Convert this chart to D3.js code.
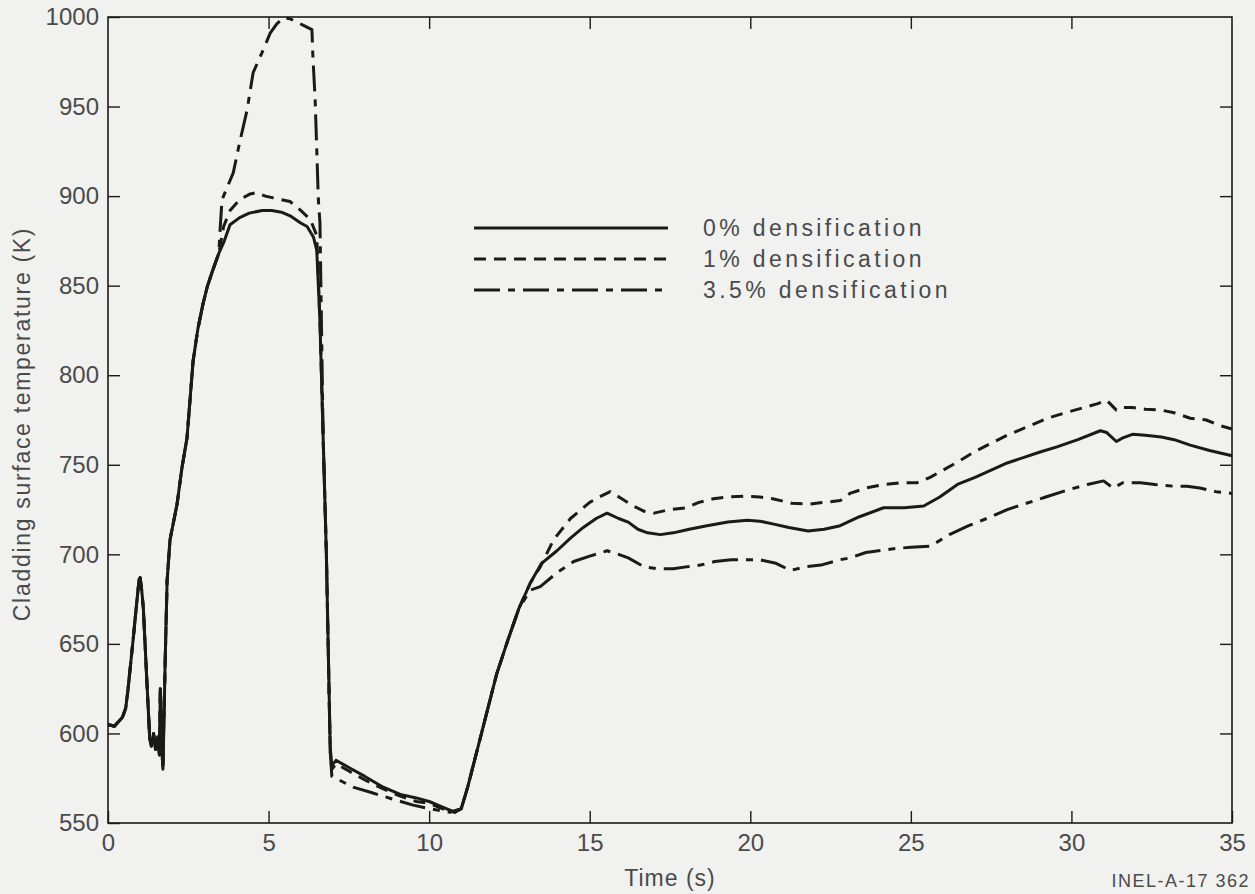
<!DOCTYPE html>
<html>
<head>
<meta charset="utf-8">
<script src="https://cdn.jsdelivr.net/npm/d3@7"></script>
<style>
  body { margin: 0; background: #f1f1ef; }
  svg { display: block; font-family: "Liberation Sans", Arial, sans-serif; }
</style>
</head>
<body>
<div id="chart"></div>
<script>
// time (s), cladding surface temperature (K)

// all three runs sit on top of each other up to ~3.4 s
const commonStart = [
  [0, 605], [0.2, 604], [0.45, 609], [0.55, 614], [0.62, 624], [0.7, 638], [0.78, 652],
  [0.9, 674], [0.97, 686], [1.0, 687], [1.05, 680], [1.1, 670], [1.2, 633], [1.3, 597],
  [1.35, 593], [1.42, 600], [1.48, 591], [1.55, 598], [1.6, 588], [1.63, 625], [1.67, 595],
  [1.71, 580], [1.78, 640], [1.84, 685], [1.93, 708], [2.15, 728], [2.3, 748], [2.46, 765],
  [2.65, 808], [2.8, 826], [2.96, 840], [3.1, 850], [3.27, 859], [3.45, 868]
]

const dens0 = [
  [3.6, 874], [3.8, 884], [4.1, 888], [4.4, 890.5], [4.8, 892], [5.1, 892], [5.4, 891],
  [5.67, 889], [6.0, 885], [6.2, 883], [6.4, 877], [6.5, 870], [6.6, 830], [6.7, 765],
  [6.8, 700], [6.92, 592], [6.97, 582], [7.1, 585], [7.5, 581], [8.0, 576], [8.57, 570],
  [9.1, 566], [9.6, 564], [10.0, 562], [10.4, 559], [10.8, 556], [11.0, 558], [11.2, 570],
  [11.6, 598], [12.1, 633], [12.45, 652], [12.8, 670], [13.15, 684], [13.5, 695], [13.98, 702],
  [14.4, 709], [14.8, 715], [15.2, 720], [15.54, 723], [15.9, 720], [16.2, 718], [16.5, 714],
  [16.8, 712], [17.2, 711], [17.6, 712], [18.1, 714], [18.65, 716], [19.3, 718], [19.9, 719],
  [20.3, 718.5], [20.7, 717], [21.2, 715], [21.8, 713], [22.3, 714], [22.8, 716], [23.4, 721],
  [24.15, 726], [24.8, 726], [25.4, 727], [25.9, 732], [26.45, 739], [27.0, 743], [27.5, 747],
  [28.0, 751], [28.5, 754], [29.0, 757], [29.55, 760], [30.2, 764], [30.9, 769], [31.1, 768],
  [31.4, 763], [31.6, 765], [31.9, 767], [32.3, 766.5], [32.8, 765.5], [33.2, 764], [33.7, 761],
  [34.3, 758], [35, 755]
]

const dens1 = [
  [3.5, 873], [3.6, 883], [3.8, 892], [4.1, 898], [4.4, 901], [4.63, 902], [4.9, 900],
  [5.15, 899], [5.4, 898], [5.67, 897], [6.0, 892], [6.3, 887], [6.5, 878], [6.6, 830],
  [6.7, 765], [6.8, 700], [6.92, 590], [6.97, 580], [7.1, 583], [7.5, 579], [8.0, 574],
  [8.57, 569], [9.1, 565], [9.6, 562], [10.0, 561], [10.4, 558], [10.8, 556], [11.0, 558],
  [11.2, 570], [11.6, 598], [12.1, 633], [12.45, 652], [12.8, 670], [13.15, 684], [13.46, 693],
  [13.87, 708], [14.4, 720], [15.0, 729], [15.3, 732], [15.64, 735], [16.0, 731], [16.36, 727],
  [16.7, 724], [17.0, 723], [17.5, 725], [18.0, 726], [18.4, 729], [18.85, 731], [19.3, 732],
  [19.8, 732.5], [20.3, 732], [20.7, 731], [21.3, 728.5], [21.8, 728], [22.3, 729], [22.8, 730],
  [23.1, 734], [23.6, 737], [24.15, 739], [24.7, 740], [25.2, 740], [25.6, 743], [26.0, 747],
  [26.5, 752], [26.95, 757], [27.5, 762], [28.0, 766.5], [28.6, 771], [29.25, 776], [29.8, 779],
  [30.4, 782], [30.8, 784], [31.1, 786], [31.4, 780.5], [31.6, 782], [31.9, 782], [32.3, 781],
  [32.8, 780.5], [33.2, 779], [33.7, 776], [34.2, 775], [34.6, 772], [35, 770]
]

const dens35 = [
  [3.49, 881], [3.55, 898], [3.9, 913], [4.1, 930], [4.33, 948], [4.52, 969], [4.83, 981.5],
  [5.05, 991], [5.25, 996], [5.45, 999.5], [5.67, 999], [6.07, 995.5], [6.35, 993], [6.38, 978],
  [6.45, 954], [6.5, 926], [6.55, 898], [6.6, 885], [6.7, 765], [6.8, 700], [6.92, 590],
  [6.97, 576], [7.2, 574], [7.63, 570], [8.2, 567], [8.8, 563.7], [9.5, 560], [10.0, 558],
  [10.65, 556], [11.0, 558], [11.2, 570], [11.6, 598], [12.1, 633], [12.45, 652], [12.8, 670],
  [13.15, 680], [13.46, 682], [14.0, 690], [14.5, 696], [15.0, 699], [15.54, 702], [15.9, 700],
  [16.2, 698], [16.7, 693], [17.1, 692], [17.6, 692], [18.0, 693], [18.45, 694], [18.9, 696],
  [19.4, 697], [19.9, 697], [20.3, 697], [20.8, 695], [21.25, 691], [21.7, 693], [22.2, 694],
  [22.8, 697], [23.1, 698], [23.6, 701], [24.4, 703], [25.0, 704], [25.6, 704.5], [26.2, 711],
  [26.8, 716], [27.5, 721], [28.0, 725], [28.6, 728.5], [29.2, 732], [29.9, 736], [30.5, 739],
  [31.0, 741], [31.3, 737], [31.6, 740], [32.15, 740], [32.6, 739], [33.2, 738], [33.6, 738],
  [34.0, 737], [34.5, 735], [35, 734]
]

const seriesNames = ['0% densification', '1% densification', '3.5% densification']
const xTicks = [0, 5, 10, 15, 20, 25, 30, 35]
const yTicks = [550, 600, 650, 700, 750, 800, 850, 900, 950, 1000]

const series = [
  { name: seriesNames[0], values: commonStart.concat(dens0), dash: null },
  { name: seriesNames[1], values: commonStart.concat(dens1), dash: '12,8' },
  { name: seriesNames[2], values: commonStart.concat(dens35), dash: '26,8,7,8' }
]

const W = 1255, H = 894
const margin = { top: 17, right: 23, bottom: 71, left: 108 }
const width = W - margin.left - margin.right
const height = H - margin.top - margin.bottom

const svg = d3.select('#chart').append('svg')
  .attr('width', W)
  .attr('height', H)

const g = svg.append('g')
  .attr('transform', 'translate(' + margin.left + ',' + margin.top + ')')

const x = d3.scaleLinear().domain([0, 35]).range([0, width])
const y = d3.scaleLinear().domain([550, 1000]).range([height, 0])

const ink = '#1a1a1a'
const textCol = '#4a4a4a'

// ticks point inward on every side
const tickLen = 12
const axisStyle = (sel) => {
  sel.select('.domain').remove()
  sel.selectAll('.tick line').attr('stroke', ink).attr('stroke-width', 1.4)
  sel.selectAll('.tick text').attr('fill', textCol).style('font-size', '24px')
}

g.append('g')
  .attr('transform', 'translate(0,' + height + ')')
  .call(d3.axisBottom(x).tickValues(xTicks).tickSize(-tickLen).tickPadding(9).tickFormat(d3.format('d')))
  .call(axisStyle)
  .call(s => s.selectAll('.tick text').attr('dy', '0.8em'))

g.append('g')
  .call(d3.axisTop(x).tickValues(xTicks.slice(1, -1)).tickSize(-tickLen).tickFormat(''))
  .call(axisStyle)

g.append('g')
  .call(d3.axisLeft(y).tickValues(yTicks).tickSize(-tickLen).tickPadding(9).tickFormat(d3.format('d')))
  .call(axisStyle)

g.append('g')
  .attr('transform', 'translate(' + width + ',0)')
  .call(d3.axisRight(y).tickValues(yTicks.slice(1, -1)).tickSize(-tickLen).tickFormat(''))
  .call(axisStyle)

// frame
g.append('rect')
  .attr('width', width)
  .attr('height', height)
  .attr('fill', 'none')
  .attr('stroke', ink)
  .attr('stroke-width', 1.6)

const line = d3.line()
  .x(d => x(d[0]))
  .y(d => y(d[1]))

g.selectAll('.series')
  .data(series)
  .enter().append('path')
    .attr('class', 'series')
    .attr('d', d => line(d.values))
    .attr('fill', 'none')
    .attr('stroke', ink)
    .attr('stroke-width', 3)
    .attr('stroke-linejoin', 'round')
    .attr('stroke-dasharray', d => d.dash)

// legend
const legend = svg.append('g')
  .attr('transform', 'translate(474,228)')

const item = legend.selectAll('.item')
  .data(series)
  .enter().append('g')
    .attr('class', 'item')
    .attr('transform', (d, i) => 'translate(0,' + (i * 31) + ')')

item.append('line')
  .attr('x1', 0).attr('x2', 194)
  .attr('stroke', ink)
  .attr('stroke-width', 3.2)
  .attr('stroke-dasharray', d => d.dash)

item.append('text')
  .attr('x', 229)
  .attr('dy', '0.35em')
  .attr('fill', textCol)
  .style('font-size', '23px')
  .style('letter-spacing', '3.4px')
  .text(d => d.name)

// axis titles
svg.append('text')
  .attr('x', margin.left + width / 2)
  .attr('y', 886)
  .attr('text-anchor', 'middle')
  .attr('fill', textCol)
  .style('font-size', '23px')
  .style('letter-spacing', '1px')
  .text('Time (s)')

svg.append('text')
  .attr('transform', 'translate(30,' + (margin.top + 407) + ') rotate(-90)')
  .attr('text-anchor', 'middle')
  .attr('fill', textCol)
  .style('font-size', '23px')
  .style('letter-spacing', '1.7px')
  .text('Cladding surface temperature (K)')

svg.append('text')
  .attr('x', 1250)
  .attr('y', 887)
  .attr('text-anchor', 'end')
  .attr('fill', textCol)
  .style('font-size', '18px')
  .style('letter-spacing', '1.5px')
  .text('INEL-A-17  362')
</script>
</body>
</html>
